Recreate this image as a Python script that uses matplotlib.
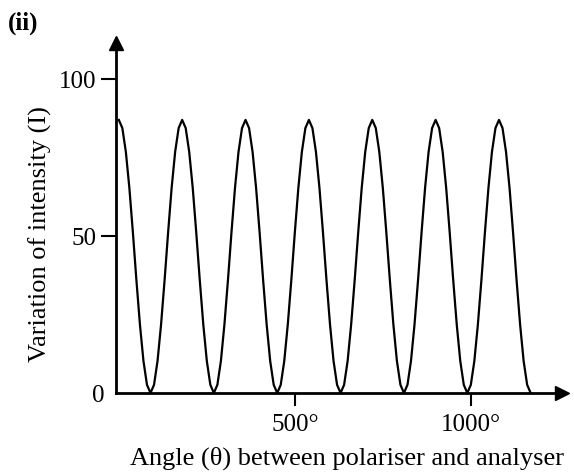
import matplotlib
matplotlib.use("Agg")
import matplotlib.pyplot as plt
from matplotlib.transforms import ScaledTranslation

# angle between polariser and analyser (degrees), every 10 deg
angles = list(range(0, 1171, 10))

# intensity (peak ~87, zero at odd multiples of 90 deg)
intensity = [
    87, 84.4, 76.8, 65.3, 51.1, 35.9, 21.8, 10.2, 2.6, 0, 2.6, 10.2, 21.8, 35.9, 51.1, 65.3, 76.8, 84.4,
    87, 84.4, 76.8, 65.3, 51.1, 35.9, 21.8, 10.2, 2.6, 0, 2.6, 10.2, 21.8, 35.9, 51.1, 65.3, 76.8, 84.4,
    87, 84.4, 76.8, 65.3, 51.1, 35.9, 21.8, 10.2, 2.6, 0, 2.6, 10.2, 21.8, 35.9, 51.1, 65.3, 76.8, 84.4,
    87, 84.4, 76.8, 65.3, 51.1, 35.9, 21.8, 10.2, 2.6, 0, 2.6, 10.2, 21.8, 35.9, 51.1, 65.3, 76.8, 84.4,
    87, 84.4, 76.8, 65.3, 51.1, 35.9, 21.8, 10.2, 2.6, 0, 2.6, 10.2, 21.8, 35.9, 51.1, 65.3, 76.8, 84.4,
    87, 84.4, 76.8, 65.3, 51.1, 35.9, 21.8, 10.2, 2.6, 0, 2.6, 10.2, 21.8, 35.9, 51.1, 65.3, 76.8, 84.4,
    87, 84.4, 76.8, 65.3, 51.1, 35.9, 21.8, 10.2, 2.6, 0,
]

y_ticks = [0, 50, 100]
y_tick_labels = ["0", "50", "100"]
x_ticks = [500, 1000]
x_tick_labels = ["500°", "1000°"]

plt.rcParams["font.family"] = ["Liberation Serif", "DejaVu Serif"]

fig = plt.figure(figsize=(5.74, 4.72), dpi=100)
ax = fig.add_axes([116 / 574, 79 / 472, 446 / 574, 350 / 472])

ax.plot(angles, intensity, color="black", linewidth=1.6, clip_on=False)

ax.set_xlim(-8, 1259)
ax.set_ylim(0, 111.5)

for side in ("top", "right"):
    ax.spines[side].set_visible(False)
for side in ("left", "bottom"):
    ax.spines[side].set_linewidth(2.0)

# arrow heads on the axes
ax.plot(1, 0, ">", color="black", markersize=10, transform=ax.transAxes, clip_on=False)
ax.plot(0, 1, "^", color="black", markersize=10, transform=ax.transAxes, clip_on=False)

ax.set_yticks(y_ticks)
ax.set_yticklabels(y_tick_labels, fontsize=18)
ax.set_xticks(x_ticks)
ax.set_xticklabels(x_tick_labels, fontsize=18)
ax.tick_params(axis="y", length=11, width=1.5, pad=3)
ax.tick_params(axis="x", length=9, width=1.5, pad=6)

zero_tick = ax.yaxis.get_major_ticks()[0]
zero_tick.tick1line.set_visible(False)
zero_tick.label1.set_transform(zero_tick.label1.get_transform()
                               + ScaledTranslation(8 / 100, 0, fig.dpi_scale_trans))

ax.set_xlabel("Angle (θ) between polariser and analyser", fontsize=19)
ax.xaxis.set_label_coords(0.518, -0.152)
ax.set_ylabel("Variation of intensity (I)", fontsize=19)
ax.yaxis.set_label_coords(-0.143, 0.455)

fig.text(8 / 574, 1 - 23 / 472, "(ii)", fontsize=18, fontweight="bold", va="center")

fig.savefig("out.png", dpi=100)
